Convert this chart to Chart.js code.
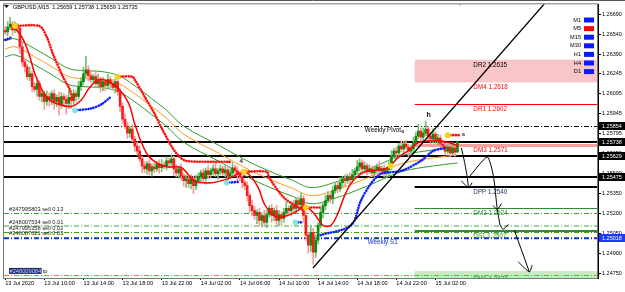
<!DOCTYPE html>
<html>
<head>
<meta charset="utf-8">
<script src="https://cdn.jsdelivr.net/npm/chart.js@4.4.1/dist/chart.umd.min.js"></script>
<style>
  html, body { margin: 0; padding: 0; background: #fff; }
  #wrap { width: 625px; height: 292px; }
</style>
</head>
<body>
<div id="wrap"><canvas id="c"></canvas></div>
<script>
// GBPUSD M15, 13 Jul 06:00 -> 15 Jul 04:15, one slot per bar
const xLabels = ['13 Jul 2020', '13 Jul 10:00', '13 Jul 14:00', '13 Jul 18:00', '13 Jul 22:00', '14 Jul 02:00',
  '14 Jul 06:00', '14 Jul 10:00', '14 Jul 14:00', '14 Jul 18:00', '14 Jul 22:00', '15 Jul 02:00'];
const barsPerLabel = 16;
const yTicks = [1.26690, 1.26540, 1.26390, 1.26245, 1.26095, 1.25945, 1.25795, 1.25650, 1.25500,
  1.25350, 1.25200, 1.25050, 1.24900, 1.24750];

const firstOpen = 1.26570;
const closes = [
  1.26557, 1.26594, 1.26616, 1.26572, 1.26601, 1.26586, 1.26446, 1.26334, 1.26297, 1.26223,
  1.26245, 1.26149, 1.26127, 1.26171, 1.26075, 1.26097, 1.26038, 1.26075, 1.26053, 1.26097,
  1.26038, 1.26068, 1.26016, 1.26075, 1.26053, 1.26023, 1.26068, 1.26046, 1.26097, 1.26075,
  1.26149, 1.26186, 1.26245, 1.26275, 1.26231, 1.26201, 1.26223, 1.26171, 1.26201, 1.26149,
  1.26186, 1.26157, 1.26201, 1.26171, 1.26142, 1.26186, 1.26112, 1.26001, 1.25905, 1.25853,
  1.25801, 1.25831, 1.25757, 1.25704, 1.25667, 1.25608, 1.25556, 1.25534, 1.25571, 1.25519,
  1.25549, 1.25534, 1.25571, 1.25542, 1.25564, 1.25556, 1.25593, 1.25579, 1.25608, 1.25534,
  1.25504, 1.25534, 1.25482, 1.25445, 1.25460, 1.25423, 1.25460, 1.25408, 1.25445, 1.25475,
  1.25504, 1.25460, 1.25519, 1.25490, 1.25519, 1.25534, 1.25497, 1.25519, 1.25534, 1.25504,
  1.25527, 1.25482, 1.25504, 1.25542, 1.25519, 1.25497, 1.25475, 1.25430, 1.25408, 1.25334,
  1.25259, 1.25222, 1.25185, 1.25208, 1.25149, 1.25185, 1.25134, 1.25193, 1.25238, 1.25185,
  1.25222, 1.25149, 1.25193, 1.25164, 1.25208, 1.25238, 1.25222, 1.25259, 1.25238, 1.25297,
  1.25267, 1.25312, 1.25185, 1.25038, 1.24964, 1.25060, 1.24912, 1.25001, 1.25112, 1.25208,
  1.25259, 1.25297, 1.25334, 1.25312, 1.25371, 1.25408, 1.25386, 1.25430, 1.25460, 1.25445,
  1.25475, 1.25453, 1.25490, 1.25519, 1.25549, 1.25579, 1.25534, 1.25556, 1.25519, 1.25534,
  1.25504, 1.25527, 1.25549, 1.25519, 1.25534, 1.25504, 1.25527, 1.25556, 1.25630, 1.25667,
  1.25653, 1.25704, 1.25682, 1.25719, 1.25697, 1.25667, 1.25682, 1.25727, 1.25779, 1.25816,
  1.25771, 1.25801, 1.25831, 1.25779, 1.25757, 1.25793, 1.25742, 1.25764, 1.25719, 1.25704,
  1.25667, 1.25697, 1.25653, 1.25690, 1.25659, 1.25735
];
// wick lengths in pips above / below the body
const wickUp = [
  3,4,5,2,3,2,2,4,3,2,5,2,3,4,2,3,2,4,3,2, 3,2,4,3,2,3,5,2,3,2,4,3,5,10,3,4,2,3,4,2,
  3,2,4,2,3,2,3,2,2,4,3,2,3,2,3,4,2,3,2,3, 2,3,2,3,4,2,3,2,3,2,3,2,4,2,3,2,3,2,4,3,
  2,3,2,4,2,3,5,2,3,2,3,2,3,4,2,3,2,3,2,3, 2,4,3,2,3,2,4,3,2,3,2,4,3,2,3,5,2,3,4,2,
  3,4,2,3,2,5,3,4,2,3,2,4,3,2,3,2,3,4,2,3, 2,3,4,2,5,3,2,3,2,3,2,3,2,4,2,3,2,3,4,2,
  3,2,4,2,3,2,3,4,3,5,2,4,6,2,3,4,2,3,2,3, 2,3,2,4,2,0
];
const wickDn = [
  2,3,2,4,2,3,5,3,4,2,3,4,2,5,3,4,6,3,5,4, 6,4,8,3,5,8,4,6,3,4,2,3,2,3,4,2,3,2,3,4,
  3,4,2,3,2,4,3,4,3,2,4,3,2,4,3,2,5,3,4,3, 4,3,2,4,3,2,3,4,3,5,3,4,3,4,5,3,4,6,3,2,
  3,2,4,3,2,3,2,4,3,2,3,4,2,3,4,5,3,4,3,4, 5,4,3,6,4,5,3,4,2,5,4,3,4,5,3,2,3,4,2,3,
  2,3,5,4,6,5,9,4,3,2,4,3,2,3,4,2,3,2,3,4, 2,3,2,3,2,3,4,2,3,2,3,4,2,3,2,3,4,5,3,2,
  3,4,2,3,2,4,3,2,3,2,4,3,2,3,4,3,2,3,4,3, 3,2,3,2,3,0
];

// indicator lines: [bar, price]
const fastLine = [[2.8,1.26609],[6.8,1.26520],[9.7,1.26394],[12.1,1.26245],[15,1.26127],[17.8,1.26053],
  [21.9,1.26016],[27.2,1.26001],[31.3,1.26053],[34.2,1.26134],[38.2,1.26201],[42.3,1.26186],[46.4,1.26134],
  [50.5,1.26023],[52.9,1.25875],[55.8,1.25727],[58.6,1.25630],[62.7,1.25571],[66,1.25549],[72.1,1.25542],
  [77.4,1.25445],[84.3,1.25430],[91.2,1.25460],[96.5,1.25504],[99.4,1.25497],[103.5,1.25393],[105.9,1.25275],
  [108.8,1.25201],[111.6,1.25171],[115.7,1.25186],[119.8,1.25223],[122.2,1.25260],[126.3,1.25201],[130,1.25112],
  [133.2,1.25112],[136.1,1.25201],[138.5,1.25319],[141.4,1.25423],[145.4,1.25497],[149.5,1.25519],[156.5,1.25542],
  [160.5,1.25616],[164.6,1.25667],[168.7,1.25727],[172.8,1.25742],[178.1,1.25742],[182.1,1.25727],[185.4,1.25704]];
const slowLine = [[0,1.26431],[4,1.26446],[12.1,1.26371],[19.1,1.26297],[26,1.26223],[32.5,1.26208],[39.5,1.26201],
  [46.4,1.26171],[52.9,1.26097],[59.8,1.26001],[66,1.25912],[73,1.25793],[87.1,1.25653],[100.6,1.25519],
  [111.6,1.25430],[116.9,1.25393],[125,1.25334],[134.4,1.25371],[148.3,1.25467],[161.7,1.25571],[175.2,1.25616],[185,1.25638]];
const envelopeDev = 0.0006;

const redTrail = [
  [[3,1.26601],[14,1.26601],[17,1.26520],[19.5,1.26394],[23.6,1.26223],[26.4,1.26127],[28,1.26038]],
  [[46,1.26223],[52,1.26223],[53,1.26201],[57,1.26075],[61,1.25949],[64,1.25838],[68,1.25704],[71,1.25630],[74,1.25593],[92,1.25586]],
  [[97.6,1.25512],[107,1.25512],[108,1.25467],[114,1.25319],[120,1.25245],[122,1.25223]],
  [[123,1.25245],[129,1.25245]],
  [[181,1.25786],[186,1.25786]]
];
const blueTrail = [
  [[0,1.26498],[3,1.26520]],
  [[28.5,1.25971],[35.3,1.25986],[39.3,1.26016],[43.4,1.26075]],
  [[90.6,1.25430],[96,1.25438]],
  [[118.7,1.25134],[122,1.25134]],
  [[129,1.25038],[141.5,1.25112],[145.5,1.25297],[149.6,1.25423],[153.7,1.25497],[162,1.25519],[170,1.25593],[175,1.25667],[180,1.25690]]
];
const yellowDots = [[4,1.26601],[46,1.26223],[97.6,1.25512],[123,1.25245],[157.7,1.25556],[181,1.25786]];
const cyanDots = [[28.5,1.25971],[90.6,1.25430],[118.7,1.25134]];

// drawn objects
const trendLine = [[125.9,1.24793],[224,1.26839]];
const arrowPaths = [
  [[186.6,1.25690],[187.8,1.25593],[189,1.25475],[189.5,1.25393]],
  [[186.6,1.25445],[189.5,1.25393],[191,1.25430]],
  [[189.5,1.25467],[197.2,1.25623],[199.7,1.25482],[201.3,1.25230],[202.5,1.25112],[203.7,1.25082],[205.8,1.25119]],
  [[199.5,1.25260],[201.3,1.25230],[203,1.25275]],
  [[208.3,1.25075],[214.4,1.24764]],
  [[209.9,1.24838],[214.4,1.24764],[215.6,1.24815]]
];

const userLines = [1.25854, 1.25738, 1.25629, 1.25475];
const weeklyPivot = 1.25854;
const weeklyS1 = 1.25018;
const dayStart = 168;
const dayNames = ['DR2', 'DM4', 'DR1', 'DM3', 'DPP', 'DM2', 'DS1', 'DM1'];
const dayValues = [1.2635, 1.2618, 1.2602, 1.2571, 1.2540, 1.2524, 1.2507, 1.2477];
const orderTexts = ['#247995803 sell 0.13', '#248007534 sell 0.01', '#247995358 sell 0.02', '#248007821 sell 0.03', '#248009084 tp'];
const orderPrices = [1.25201, 1.25107, 1.25060, 1.25026, 1.24741];
const markText = ['h', 's', 's', '4'];
const markBar = [173.2, 162.6, 187.4, 96.5];
const markPrice = [1.25935, 1.25815, 1.25793, 1.25593];
const axisBoxes = [1.25854, 1.25738, 1.25629, 1.25475, 1.25018];
const tfNames = ['M1', 'M5', 'M15', 'M30', 'H1', 'H4', 'D1'];
const tfState = [0, 1, 0, 0, 0, 0, 0];
const title = 'GBPUSD,M15  1.25659 1.25738 1.25659 1.25735';

const pip = 0.0001;
const opens = closes.map((c, i) => i === 0 ? firstOpen : closes[i - 1]);
const highs = closes.map((c, i) => Math.max(c, opens[i]) + wickUp[i] * pip);
const lows = closes.map((c, i) => Math.min(c, opens[i]) - wickDn[i] * pip);
const isBull = i => closes[i] >= opens[i];

const pts = arr => arr.map(p => ({x: p[0], y: p[1]}));
const FONT = 'Liberation Sans, Arial, sans-serif';

function lineDs(arr, color, width, order, extra) {
  return Object.assign({
    type: 'line', data: pts(arr), borderColor: color, borderWidth: width,
    pointRadius: 0, tension: 0.35, order: order, clip: 0
  }, extra || {});
}

const datasets = [];
datasets.push(lineDs(trendLine, '#000', 1.3, 1, {tension: 0}));
arrowPaths.forEach(a => datasets.push(lineDs(a, '#000', 1, 1, {tension: 0.2})));
datasets.push({type: 'scatter', data: pts(yellowDots), pointRadius: 3, pointBackgroundColor: '#ffd21a', pointBorderWidth: 0, order: 2});
datasets.push({type: 'scatter', data: pts(cyanDots), pointRadius: 2.8, pointBackgroundColor: '#7fe8e0', pointBorderWidth: 0, order: 2});
redTrail.forEach(s => datasets.push(lineDs(s, '#ff1010', 2.6, 3, {borderDash: [0.1, 2.6], borderCapStyle: 'round', tension: 0.3})));
blueTrail.forEach(s => datasets.push(lineDs(s, '#1020ff', 2.6, 3, {borderDash: [0.1, 2.6], borderCapStyle: 'round', tension: 0.3})));
datasets.push(lineDs(fastLine, '#ff0000', 1.5, 4));
datasets.push({
  type: 'bar', grouped: false, order: 5, barThickness: 2, minBarLength: 1,
  data: closes.map((c, i) => ({x: i, y: [opens[i], c]})),
  backgroundColor: ctx => isBull(ctx.dataIndex) ? '#0d8a0d' : '#ff1a1a'
});
datasets.push({
  type: 'bar', grouped: false, order: 6, barThickness: 1,
  data: closes.map((c, i) => ({x: i, y: [lows[i], highs[i]]})),
  backgroundColor: ctx => isBull(ctx.dataIndex) ? '#72c072' : '#f59a9a'
});
datasets.push(lineDs(slowLine, '#ff9a20', 1, 7));
datasets.push(lineDs(slowLine.map(p => [p[0], p[1] + envelopeDev]), '#2f9a2f', 1, 7));
datasets.push(lineDs(slowLine.map(p => [p[0], p[1] - envelopeDev]), '#2f9a2f', 1, 7));

function hline(ctx, area, y, x0, color, width, dash) {
  ctx.save();
  ctx.beginPath();
  ctx.strokeStyle = color;
  ctx.lineWidth = width;
  ctx.setLineDash(dash || []);
  const yy = width % 2 ? Math.round(y) + 0.5 : Math.round(y);
  ctx.moveTo(x0, yy);
  ctx.lineTo(area.right, yy);
  ctx.stroke();
  ctx.restore();
}
const DASHDOT = [5, 2, 1, 2];

const levelsPlugin = {
  id: 'levels',
  beforeDatasetsDraw(chart) {
    const {ctx, chartArea: a, scales: {x, y}} = chart;
    ctx.save();
    ctx.beginPath();
    ctx.rect(a.left, a.top, a.right - a.left, a.bottom - a.top);
    ctx.clip();
    const dx = x.getPixelForValue(dayStart - 0.5);
    const v = n => dayValues[dayNames.indexOf(n)];
    ctx.fillStyle = 'rgba(244,160,160,0.6)';
    ctx.fillRect(dx, y.getPixelForValue(v('DR2')), a.right - dx, y.getPixelForValue(v('DM4')) - y.getPixelForValue(v('DR2')));
    ctx.fillStyle = 'rgba(170,230,170,0.7)';
    ctx.fillRect(dx, y.getPixelForValue(v('DM1')), a.right - dx, a.bottom - y.getPixelForValue(v('DM1')));
    hline(ctx, a, y.getPixelForValue(v('DR1')), dx, '#ff0000', 1);
    hline(ctx, a, y.getPixelForValue(v('DM3')), dx, '#f6a0a0', 3);
    hline(ctx, a, y.getPixelForValue(v('DPP')), dx, '#000', 2);
    hline(ctx, a, y.getPixelForValue(v('DM2')), dx, '#2e8b2e', 1);
    hline(ctx, a, y.getPixelForValue(v('DS1')), dx, '#2e8b2e', 2);

    userLines.forEach(p => {
      if (p === weeklyPivot) hline(ctx, a, y.getPixelForValue(p), a.left, '#000', 1, DASHDOT);
      else hline(ctx, a, y.getPixelForValue(p), a.left, '#000', 2);
    });
    const orderColors = ['#3c9c3c', '#9ad29a', '#3c9c3c', '#3c9c3c', '#ff6a3a'];
    orderPrices.forEach((p, k) => hline(ctx, a, y.getPixelForValue(p), a.left, orderColors[k], k === 1 ? 2 : 1, DASHDOT));
    hline(ctx, a, y.getPixelForValue(weeklyS1), a.left, '#1030d0', 1.5, DASHDOT);
    ctx.restore();
  },
  afterDatasetsDraw(chart) {
    const {ctx, chartArea: a, scales: {x, y}} = chart;
    ctx.save();
    ctx.beginPath();
    ctx.rect(a.left, a.top, a.right - a.left, a.bottom - a.top);
    ctx.clip();
    ctx.textBaseline = 'top';
    ctx.textAlign = 'left';
    ctx.font = '6.3px ' + FONT;
    const lx = x.getPixelForValue(191.5);
    const dayColor = {DR2: '#000', DM4: '#ff0000', DR1: '#ff0000', DM3: '#ff0000', DPP: '#1c2f6a', DM2: '#2e8b2e', DS1: '#2e8b2e', DM1: '#2e8b2e'};
    dayNames.forEach((n, k) => {
      ctx.fillStyle = dayColor[n];
      const gap = n === 'DM1' ? 5 : 2;
      ctx.fillText(n + ' ' + dayValues[k].toFixed(4), lx, y.getPixelForValue(dayValues[k]) + gap);
    });
    ctx.fillStyle = '#000';
    ctx.fillText('Weekly Pivot', x.getPixelForValue(147.1), y.getPixelForValue(weeklyPivot) + 1);
    ctx.fillStyle = '#1030d0';
    ctx.fillText('Weekly S1', x.getPixelForValue(148.3), y.getPixelForValue(weeklyS1) + 1);

    ctx.font = '5.7px ' + FONT;
    ctx.textBaseline = 'bottom';
    orderTexts.forEach((t, k) => {
      const yy = y.getPixelForValue(orderPrices[k]) - 1;
      if (k === orderTexts.length - 1) {
        const num = t.split(' ')[0];
        const w = ctx.measureText(num).width;
        ctx.fillStyle = '#1d2c70';
        ctx.fillRect(a.left + 5, yy - 6, w + 1, 6);
        ctx.fillStyle = '#c8d0ff';
        ctx.fillText(num, a.left + 5.5, yy);
        ctx.fillStyle = '#222';
        ctx.fillText(' tp', a.left + 5.5 + w, yy);
      } else {
        ctx.fillStyle = '#222';
        ctx.fillText(t, a.left + 5, yy);
      }
    });

    ctx.textAlign = 'center';
    ctx.textBaseline = 'middle';
    markText.forEach((t, k) => {
      ctx.font = (t === 'h' ? 'bold 7px ' : 'bold 6px ') + FONT;
      ctx.fillStyle = '#111';
      ctx.fillText(t, x.getPixelForValue(markBar[k]), y.getPixelForValue(markPrice[k]));
    });
    ctx.restore();
  },
  afterDraw(chart) {
    const {ctx, chartArea: a, scales: {y}} = chart;
    ctx.save();
    // frame
    ctx.strokeStyle = '#777';
    ctx.lineWidth = 1;
    ctx.strokeRect(a.left - 0.5, a.top - 0.5, a.right - a.left, a.bottom - a.top + 1);
    ctx.strokeStyle = '#555';
    ctx.beginPath(); ctx.moveTo(0, 0.5); ctx.lineTo(625, 0.5); ctx.stroke();

    // axis price boxes
    ctx.font = '5.5px ' + FONT;
    ctx.textBaseline = 'middle';
    ctx.textAlign = 'left';
    axisBoxes.forEach(p => {
      const yy = Math.round(y.getPixelForValue(p));
      const blue = p === weeklyS1;
      ctx.fillStyle = blue ? '#1a3cff' : '#000';
      ctx.fillRect(a.right + 1, yy - 4, 26, 8);
      ctx.fillStyle = '#fff';
      ctx.fillText(p.toFixed(5), a.right + 4, yy + 0.5);
    });

    // title
    ctx.fillStyle = '#000';
    ctx.beginPath();
    ctx.moveTo(4, 5); ctx.lineTo(9, 5); ctx.lineTo(6.5, 8); ctx.closePath(); ctx.fill();
    ctx.font = '5.6px ' + FONT;
    ctx.fillText(title, 13, 7);

    // shift marker
    ctx.fillStyle = '#aaa';
    ctx.beginPath();
    ctx.moveTo(457, 3); ctx.lineTo(463, 3); ctx.lineTo(460, 6); ctx.closePath(); ctx.fill();

    // timeframe panel
    ctx.textAlign = 'right';
    tfNames.forEach((n, k) => {
      const yy = 20 + k * 8.6;
      ctx.fillStyle = '#000';
      ctx.fillText(n, 581, yy);
      ctx.fillStyle = tfState[k] ? '#ff0000' : '#0a1cff';
      ctx.fillRect(584, yy - 2.5, 10, 5);
    });
    ctx.restore();
  }
};

new Chart(document.getElementById('c'), {
  type: 'bar',
  data: {datasets: datasets},
  options: {
    responsive: true,
    maintainAspectRatio: false,
    animation: false,
    layout: {padding: {left: 2, top: 2, right: 0, bottom: 0}},
    plugins: {legend: {display: false}, tooltip: {enabled: false}},
    scales: {
      x: {
        type: 'linear', min: -0.5, max: 242.5, offset: false,
        grid: {drawOnChartArea: false, offset: false, tickLength: 2, color: '#000'},
        border: {display: true, color: '#000'},
        afterBuildTicks: axis => { axis.ticks = xLabels.map((l, k) => ({value: k * barsPerLabel})); },
        afterFit: axis => { axis.height = 14; },
        ticks: {
          autoSkip: false, maxRotation: 0, align: 'start', padding: 0, color: '#000',
          font: {size: 5.6, family: FONT},
          callback: v => xLabels[Math.round(v / barsPerLabel)]
        }
      },
      y: {
        position: 'right', min: 1.24718, max: 1.26764,
        grid: {drawOnChartArea: false, tickLength: 3, color: '#000'},
        border: {display: true, color: '#000'},
        afterBuildTicks: axis => { axis.ticks = yTicks.map(v => ({value: v})); },
        afterFit: axis => { axis.width = 27; },
        ticks: {
          autoSkip: false, padding: 1, color: '#000',
          font: {size: 5.5, family: FONT},
          callback: v => Number(v).toFixed(5)
        }
      }
    }
  },
  plugins: [levelsPlugin]
});
</script>
</body>
</html>
